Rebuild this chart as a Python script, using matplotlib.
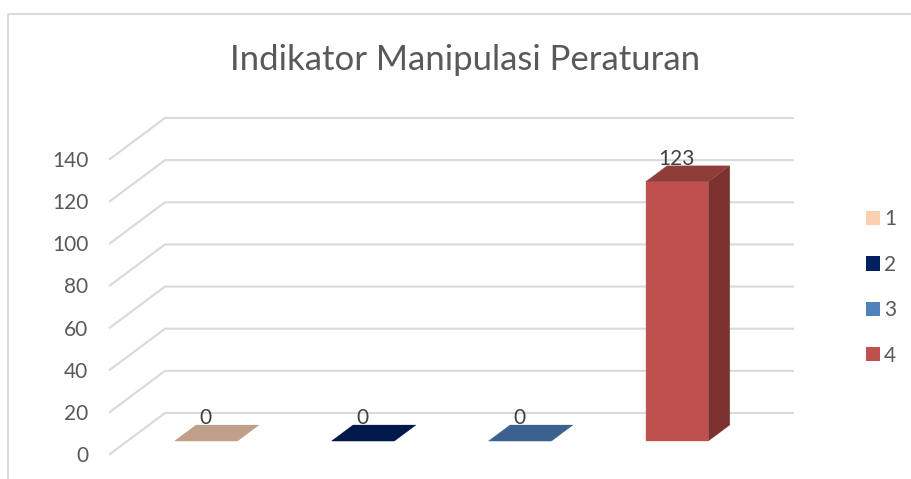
import matplotlib

matplotlib.use("Agg")
import matplotlib.pyplot as plt
from matplotlib.lines import Line2D
from matplotlib.patches import Patch, Polygon

title = "Indikator Manipulasi Peraturan"
categories = ["1", "2", "3", "4"]
values = [0, 0, 0, 123]
y_ticks = [0, 20, 40, 60, 80, 100, 120, 140]

colors = ["#FCD0B0", "#002060", "#4F81BD", "#C0504D"]
top_colors = ["#BFA08A", "#00184A", "#3B618E", "#903C3A"]
side_colors = ["#97795F", "#001238", "#2F4D71", "#7C312F"]

W, H = 911, 479
# front plane of the fake 3d box, in pixels
LEFT, RIGHT, BOTTOM, TOP = 110, 738, 454, 159
DEPTH_X = 55 / (RIGHT - LEFT) * 4  # in category units
DEPTH_Y = 41 / (BOTTOM - TOP) * 140  # in value units
BAR_W = 0.4
BAR_FRONT, BAR_BACK = 0.317, 0.707
GRID = "#D9D9D9"
TEXT = "#595959"

plt.rcParams["font.family"] = ["Lato", "DejaVu Sans"]

fig = plt.figure(figsize=(W / 100, H / 100), dpi=100, facecolor="white")
ax = fig.add_axes([LEFT / W, (H - BOTTOM) / H, (RIGHT - LEFT) / W, (BOTTOM - TOP) / H])
ax.patch.set_alpha(0)
ax.set_xlim(-0.5, 3.5)
ax.set_ylim(0, 140)


def project(x, y, depth):
    return x + depth * DEPTH_X, y + depth * DEPTH_Y


# chart border, open at the bottom and right like the cropped original
fig.add_artist(Line2D([8 / W, 8 / W, 1], [0, (H - 14) / H, (H - 14) / H],
                      color=GRID, lw=1.4, transform=fig.transFigure))

for v in y_ticks:
    pts = [project(-0.5, v, 0), project(-0.5, v, 1), project(3.5, v, 1)]
    ax.plot([p[0] for p in pts], [p[1] for p in pts], color=GRID, lw=1.5,
            clip_on=False, zorder=1, solid_joinstyle="miter")

for i, v in enumerate(values):
    l, r = i - BAR_W / 2, i + BAR_W / 2
    front = [project(l, 0, BAR_FRONT), project(r, 0, BAR_FRONT), project(r, v, BAR_FRONT), project(l, v, BAR_FRONT)]
    side = [project(r, 0, BAR_FRONT), project(r, 0, BAR_BACK), project(r, v, BAR_BACK), project(r, v, BAR_FRONT)]
    top = [project(l, v, BAR_FRONT), project(r, v, BAR_FRONT), project(r, v, BAR_BACK), project(l, v, BAR_BACK)]
    for pts, c in [(front, colors[i]), (side, side_colors[i]), (top, top_colors[i])]:
        ax.add_patch(Polygon(pts, closed=True, facecolor=c, edgecolor=c, lw=0.2, clip_on=False, zorder=2))
    ax.annotate(str(v), xy=project(i, v, BAR_FRONT), xytext=(0, 16.5), textcoords="offset points",
                ha="center", va="center", fontsize=15, color="#404040", zorder=3)

ax.set_xticks([])
ax.set_yticks(y_ticks)
ax.tick_params(axis="y", length=0, pad=15.5, labelsize=15, labelcolor=TEXT)
for lbl in ax.get_yticklabels():
    lbl.set_verticalalignment("center_baseline")
for s in ax.spines.values():
    s.set_visible(False)

fig.text(465.5 / W, (H - 60) / H, title, ha="center", va="center", fontsize=25, color=TEXT)

handles = [Patch(facecolor=c, edgecolor="none") for c in colors]
fig.legend(handles, categories, loc="center left", bbox_to_anchor=(866 / W, (H - 287.5) / H),
           frameon=False, fontsize=15, labelcolor=TEXT, handlelength=0.67, handleheight=0.67,
           handletextpad=0.2, labelspacing=1.217, borderpad=0, borderaxespad=0)

fig.savefig("out.png", dpi=100)
